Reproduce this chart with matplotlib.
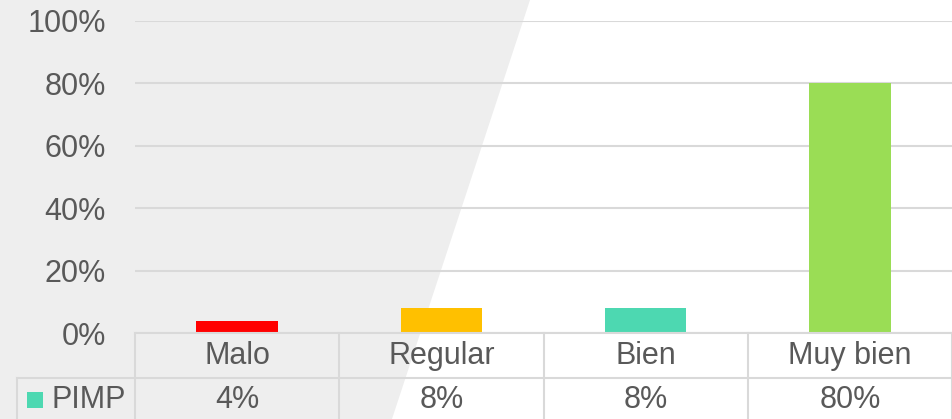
import numpy as np
import matplotlib
matplotlib.use('Agg')
import matplotlib.pyplot as plt
from matplotlib.patches import Polygon, Rectangle
from matplotlib.transforms import blended_transform_factory

plt.rcParams['font.family'] = ['Liberation Sans', 'DejaVu Sans']

# data
categories = ['Malo', 'Regular', 'Bien', 'Muy bien']
values = [0.04, 0.08, 0.08, 0.80]
value_labels = ['4%', '8%', '8%', '80%']
series_name = 'PIMP'
bar_colors = ['#FF0000', '#FFC000', '#4DD8B1', '#9ADD55']
yticks = [0, 0.2, 0.4, 0.6, 0.8, 1.0]
ytick_labels = ['0%', '20%', '40%', '60%', '80%', '100%']

txt = '#595959'
grid = '#D9D9D9'
W, H = 953, 419

fig = plt.figure(figsize=(W / 100, H / 100), dpi=100, facecolor='white')

# grey slanted background on the left, in its own axes behind everything
bg = fig.add_axes([0, 0, 1, 1], zorder=-1)
bg.set_xlim(0, W)
bg.set_ylim(0, H)
bg.axis('off')
bg.add_patch(Polygon([(0, 0), (392, 0), (530, H), (0, H)], closed=True,
                     facecolor='#EEEEEE', edgecolor='none'))

ax = fig.add_axes([135 / W, (H - 333) / H, 817 / W, 312 / H], zorder=1)
ax.set_facecolor('none')
x = np.arange(len(categories))
ax.bar(x, values, width=0.40, color=bar_colors, zorder=3)
ax.set_xlim(-0.5, len(categories) - 0.5)
ax.set_ylim(0, 1)
ax.set_yticks(yticks)
ax.set_yticklabels(ytick_labels, fontsize=22, color=txt)
ax.tick_params(axis='y', length=0, pad=21)
ax.set_xticks([])
ax.grid(axis='y', color=grid, linewidth=1.5, zorder=0)
for s in ax.spines.values():
    s.set_visible(False)

# data table under the plot
ah = 312.0
r1 = -45 / ah     # bottom of category row
r2 = -100 / ah    # below figure edge
val_y = r1 - 22 / ah
left_hdr = (17 - 135) / 817.0
bt = blended_transform_factory(ax.transData, ax.transAxes)
kw = dict(color=grid, linewidth=1.5, clip_on=False, zorder=4)
ax.plot([0, 1], [0, 0], transform=ax.transAxes, **kw)
ax.plot([left_hdr, 1], [r1, r1], transform=ax.transAxes, **kw)
ax.plot([left_hdr, left_hdr], [r1, r2], transform=ax.transAxes, **kw)
for b in np.arange(len(categories) + 1) - 0.5:
    ax.plot([b, b], [0, r2], transform=bt, **kw)

for i, (c, v) in enumerate(zip(categories, value_labels)):
    ax.text(i, r1 / 2, c, transform=bt, ha='center', va='center',
            fontsize=22, color=txt)
    ax.text(i, val_y, v, transform=bt, ha='center', va='center',
            fontsize=22, color=txt)

# legend key inside the header cell
ax.add_patch(Rectangle(((27 - 135) / 817.0, -(408 - 333) / ah), 16 / 817.0, 16 / ah,
                       transform=ax.transAxes, facecolor=bar_colors[2],
                       edgecolor='none', clip_on=False))
ax.text((52 - 135) / 817.0, val_y, series_name, transform=ax.transAxes,
        ha='left', va='center', fontsize=22, color=txt)

fig.savefig('out.png', dpi=100, facecolor='white')
